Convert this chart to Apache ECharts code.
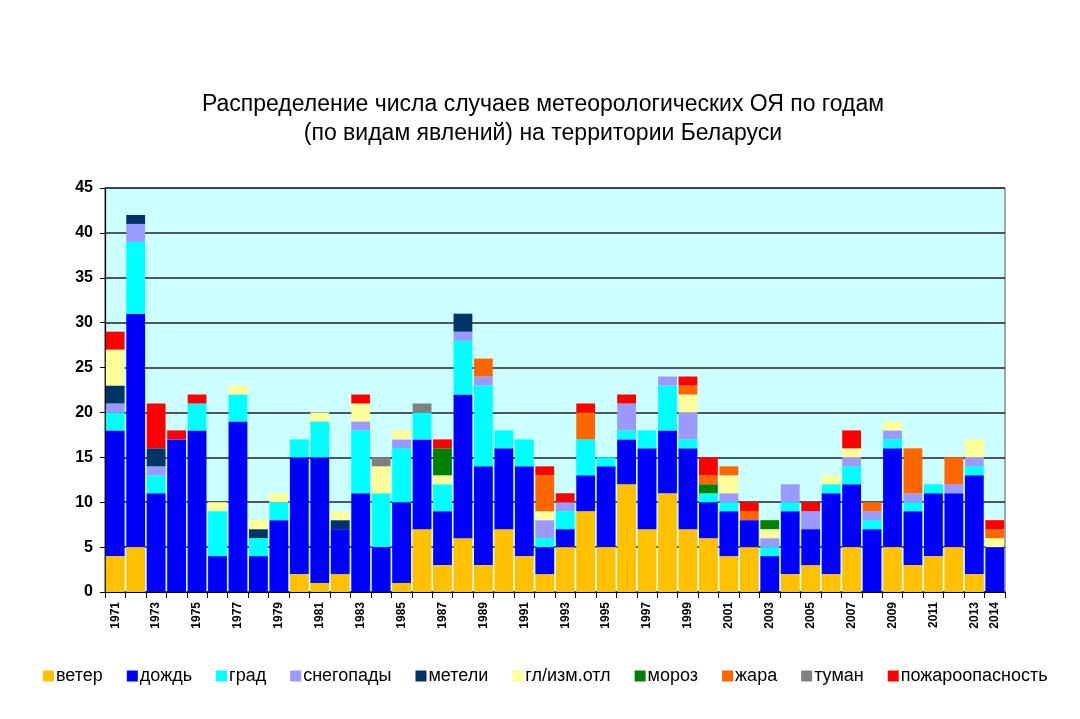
<!DOCTYPE html>
<html>
<head>
<meta charset="utf-8">
<script src="https://cdn.jsdelivr.net/npm/echarts@6/dist/echarts.min.js"></script>
<style>
  html, body { margin: 0; padding: 0; background: #fff; }
  #chart { width: 1080px; height: 719px; }
</style>
</head>
<body>
<div id="chart"></div>
<script>
const years = [];
for (let y = 1971; y <= 2014; y++) years.push(String(y));

// values per year, 1971..2014
const wind     = [4,5,0,0,0,0,0,0,0,2, 1,2,0,0,1,7,3,6,3,7, 4,2,5,9,5,12,7,11,7,6, 4,5,0,2,3,2,5,0,5,3, 4,5,2,0];
const rain     = [14,26,11,17,18,4,19,4,8,13, 14,5,11,5,9,10,6,16,11,9, 10,3,2,4,9,5,9,7,9,4, 5,3,4,7,4,9,7,7,11,6, 7,6,11,5];
const hail     = [2,8,2,0,3,5,3,2,2,2, 4,0,7,6,6,3,3,6,9,2, 3,1,2,4,1,1,2,5,1,1, 1,0,1,1,0,1,2,1,1,1, 1,0,1,0];
const snow     = [1,2,1,0,0,0,0,0,0,0, 0,0,1,0,1,0,0,1,1,0, 0,2,1,0,0,3,0,1,3,0, 1,0,1,2,2,0,1,1,1,1, 0,1,1,0];
const blizzard = [2,1,2,0,0,0,0,1,0,0, 0,1,0,0,0,0,0,2,0,0, 0,0,0,0,0,0,0,0,0,0, 0,0,0,0,0,0,0,0,0,0, 0,0,0,0];
const glaze    = [4,0,0,0,0,1,1,1,1,0, 1,1,2,3,1,0,1,0,0,0, 0,1,0,0,0,0,0,0,2,0, 2,0,1,0,0,1,1,0,1,0, 0,0,2,1];
const frost    = [0,0,0,0,0,0,0,0,0,0, 0,0,0,0,0,0,3,0,0,0, 0,0,0,0,0,0,0,0,0,1, 0,0,1,0,0,0,0,0,0,0, 0,0,0,0];
const heat     = [0,0,0,0,0,0,0,0,0,0, 0,0,0,0,0,0,0,0,2,0, 0,4,0,3,0,0,0,0,1,1, 1,1,0,0,0,0,0,1,0,5, 0,3,0,1];
const fog      = [0,0,0,0,0,0,0,0,0,0, 0,0,0,1,0,1,0,0,0,0, 0,0,0,0,0,0,0,0,0,0, 0,0,0,0,0,0,0,0,0,0, 0,0,0,0];
const fire     = [2,0,5,1,1,0,0,0,0,0, 0,0,1,0,0,0,1,0,0,0, 0,1,1,1,0,1,0,0,1,2, 0,1,0,0,1,0,2,0,0,0, 0,0,0,1];

const seriesNames = ["ветер", "дождь", "град", "снегопады", "метели", "гл/изм.отл", "мороз", "жара", "туман", "пожароопасность"];
const seriesData = [wind, rain, hail, snow, blizzard, glaze, frost, heat, fog, fire];
const seriesColors = ["#FFC000", "#0000FF", "#00FFFF", "#9999FF", "#003366", "#FFFF99", "#008000", "#FF6600", "#808080", "#FF0000"];

const yTicks = [0, 5, 10, 15, 20, 25, 30, 35, 40, 45];

const font = "Liberation Sans, Arial, sans-serif";
const chart = echarts.init(document.getElementById("chart"), null, { renderer: "canvas" });

chart.setOption({
  animation: false,
  backgroundColor: "#fff",
  color: seriesColors,
  title: {
    text: "Распределение числа случаев метеорологических ОЯ по годам\n(по видам явлений) на территории Беларуси",
    left: 538,
    top: 85,
    textAlign: "center",
    textStyle: { fontFamily: font, fontSize: 23, fontWeight: "normal", color: "#000", lineHeight: 29 },
  },
  legend: {
    left: 38,
    top: 662,
    icon: "rect",
    itemWidth: 11,
    itemHeight: 11,
    itemGap: 24,
    textStyle: { fontFamily: font, fontSize: 18, color: "#000", padding: [0, 0, 0, -3] },
    data: seriesNames,
  },
  grid: { left: 105, right: 75, top: 188, bottom: 127, backgroundColor: "#CCFFFF", show: true, borderColor: "#555", borderWidth: 1 },
  xAxis: {
    type: "category",
    data: years,
    axisLine: { lineStyle: { color: "#000", width: 1.2 } },
    axisTick: { show: true, interval: 0, length: 6, lineStyle: { color: "#000" } },
    axisLabel: {
      interval: (i) => i % 2 === 0 || i === years.length - 1,
      rotate: 90,
      fontFamily: font,
      fontSize: 12,
      fontWeight: "bold",
      color: "#000",
      margin: 10,
    },
  },
  yAxis: {
    type: "value",
    min: yTicks[0],
    max: yTicks[yTicks.length - 1],
    interval: 5,
    axisLine: { show: true, lineStyle: { color: "#000", width: 1.2 } },
    axisTick: { show: true, length: 5, lineStyle: { color: "#000" } },
    axisLabel: { fontFamily: font, fontSize: 16, fontWeight: "bold", color: "#000", margin: 12 },
    splitLine: { lineStyle: { color: "#222", width: 1.5 } },
  },
  series: seriesNames.map((name, k) => ({
    name,
    type: "bar",
    stack: "total",
    barCategoryGap: "8%",
    data: seriesData[k],
    itemStyle: { color: seriesColors[k] },
  })),
});
</script>
</body>
</html>
